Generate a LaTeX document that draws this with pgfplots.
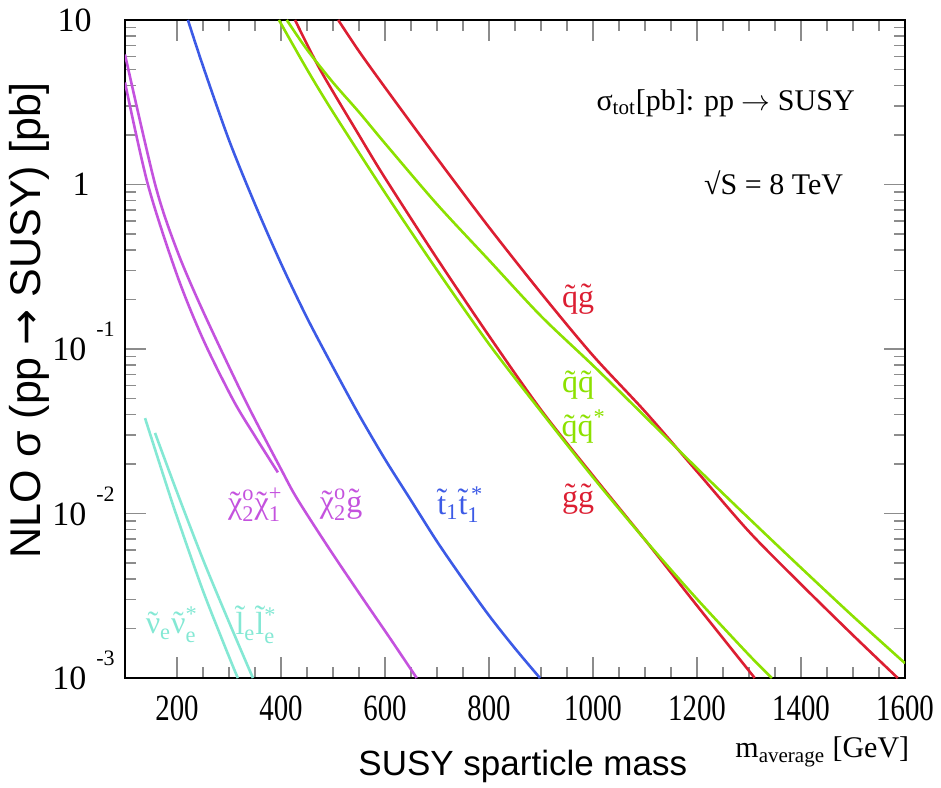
\documentclass[border=0pt]{standalone}
\usepackage{fontspec}
\setmainfont{Liberation Serif}
\newfontfamily\sansf{Liberation Sans}
\newfontfamily\dejavu{DejaVu Sans}
\newfontfamily\condf{Liberation Serif}[FakeStretch=0.78]
\usepackage{amsmath}
\usepackage{pgfplots}
\pgfplotsset{compat=1.18}

\definecolor{cmag}{HTML}{C452DE}
\definecolor{cblue}{HTML}{3C5AE6}
\definecolor{ccyan}{HTML}{84E8D4}
\definecolor{cred}{HTML}{DC1E32}
\definecolor{cgreen}{HTML}{8CE100}
\definecolor{ctick}{HTML}{8C8C8C}

% letter with a tilde above it
\newcommand{\tl}[1]{\leavevmode\setbox0=\hbox{#1}%
  \hbox to\wd0{\hss\raisebox{\dimexpr\ht0-\fontcharht\font`x\relax}{\char"02DC}\hss}%
  \kern-\wd0\box0}
\newcommand{\expo}[1]{10\kern5pt\raisebox{12pt}{\fontsize{11}{11}\selectfont -#1}}

\begin{document}
\begin{tikzpicture}
\path[use as bounding box] (-62.5pt,-54.5pt) rectangle (408pt,339pt);
\begin{axis}[
  at={(0,0)}, anchor=south west,
  scale only axis, width=390pt, height=329pt,
  clip mode=individual,
  xmin=100, xmax=1600, ymode=log, ymin=0.001, ymax=10,
  xtick={200,400,...,1600}, minor x tick num=3,
  ytick={0.001,0.01,0.1,1,10},
  minor ytick={0.002,0.003,0.004,0.005,0.006,0.007,0.008,0.009,
               0.02,0.03,0.04,0.05,0.06,0.07,0.08,0.09,
               0.2,0.3,0.4,0.5,0.6,0.7,0.8,0.9,
               2,3,4,5,6,7,8,9},
  yticklabels={{\expo{3}},{\expo{2}},{\expo{1}},{1\kern12.5pt},{10\kern11.5pt}},
  tick align=inside,
  major tick length=10.5pt, minor tick length=5.5pt,
  tick style={color=ctick, line width=0.7pt},
  axis line style={line width=0.8pt},
  /pgf/number format/assume math mode=true,
  /pgf/number format/1000 sep={},
  xticklabel style={font=\condf\fontsize{18.5}{18.5}\selectfont, anchor=base, yshift=-21pt},
  yticklabel style={font=\fontsize{17}{17}\selectfont, anchor=base east, inner sep=0pt, yshift=-5.75pt, xshift=-5pt},
  every axis plot/.append style={line width=1.3pt, smooth},
]
% stop pair
\addplot[cblue] coordinates {(221,10) (250,5.248) (300,1.862) (350,0.7586) (400,0.3311) (450,0.1549) (500,0.07762) (550,0.03981) (600,0.02138) (650,0.01202) (700,0.006761) (750,0.003981) (800,0.002399) (850,0.001514) (898,0.001)};
% chi2 chi1+
\addplot[cmag] coordinates {(100,4.169) (144,1.0) (200,0.2818) (250,0.1148) (308,0.04898) (350,0.02951) (394,0.01778)};
% chi2 gluino
\addplot[cmag] coordinates {(100,6.166) (158,1.0) (200,0.3981) (250,0.1698) (331,0.04898) (400,0.01862) (431,0.01230) (494,0.006026) (558,0.003020) (610,0.001738) (661,0.001)};
% sneutrino
\addplot[ccyan] coordinates {(138.5,0.03802) (175,0.01660) (200,0.009550) (250,0.003388) (300,0.001349) (317,0.001)};
% selectron
\addplot[ccyan] coordinates {(157.7,0.03090) (200,0.01349) (250,0.005248) (300,0.002188) (346,0.001)};
% squark gluino
\addplot[cred] coordinates {(510,10) (550,6.457) (600,3.890) (700,1.445) (800,0.5495) (900,0.2188) (1000,0.09120) (1100,0.04169) (1200,0.01799) (1300,0.007762) (1400,0.003715) (1500,0.001820) (1586,0.001)};
% gluino gluino
\addplot[cred] coordinates {(427,10) (475,5.012) (550,1.995) (600,1.096) (700,0.3548) (800,0.1202) (900,0.04266) (1000,0.01698) (1100,0.006918) (1200,0.002754) (1311,0.001)};
% squark squark
\addplot[cgreen] coordinates {(411,10) (450,6.607) (500,4.169) (550,2.754) (600,1.778) (700,0.7586) (800,0.3467) (900,0.1585) (1000,0.07943) (1100,0.03890) (1200,0.01884) (1300,0.009333) (1400,0.004677) (1500,0.002371) (1600,0.001230)};
% squark antisquark
\addplot[cgreen] coordinates {(396,10) (450,5.012) (500,2.754) (600,0.8913) (700,0.3020) (800,0.1072) (900,0.04169) (1000,0.01660) (1100,0.006918) (1200,0.003020) (1300,0.001380) (1344,0.001)};

\node[font=\sansf\fontsize{21.5}{21.5}\selectfont, rotate=90] at (rel axis cs:-0.122,0.544) {NLO σ (pp {\dejavu →} SUSY) [pb]};
\node[font=\sansf\fontsize{17.5}{17.5}\selectfont] at (rel axis cs:0.51,-0.135) {SUSY sparticle mass};
\node[font=\fontsize{15}{15}\selectfont] at (rel axis cs:0.894,-0.112) {m$_{\text{average}}$ [GeV]};
\node[anchor=east, inner sep=0pt, font=\fontsize{15}{15}\selectfont] at (rel axis cs:0.936,0.874) {σ$_{\text{tot}}$[pb]: pp $\rightarrow$ SUSY};
\node[anchor=east, inner sep=0pt, font=\fontsize{15}{15}\selectfont] at (rel axis cs:0.921,0.752) {√S = 8 TeV};

\node[text=cred, font=\fontsize{16}{16}\selectfont] at (rel axis cs:0.581,0.576) {\tl{q}\tl{g}};
\node[text=cgreen, font=\fontsize{16}{16}\selectfont] at (rel axis cs:0.581,0.445) {\tl{q}\tl{q}};
\node[text=cgreen, font=\fontsize{16}{16}\selectfont] at (rel axis cs:0.588,0.382) {\tl{q}\tl{q}$^{\text{*}}$};
\node[text=cred, font=\fontsize{16}{16}\selectfont] at (rel axis cs:0.581,0.272) {\tl{g}\tl{g}};
\node[text=cmag, font=\fontsize{16}{16}\selectfont] at (rel axis cs:0.167,0.263) {\tl{χ}$^{\text{o}}_{\text{2}}$\tl{χ}$^{\text{+}}_{\text{1}}$};
\node[text=cmag, font=\fontsize{16}{16}\selectfont] at (rel axis cs:0.277,0.263) {\tl{χ}$^{\text{o}}_{\text{2}}$\tl{g}};
\node[text=cblue, font=\fontsize{16}{16}\selectfont] at (rel axis cs:0.430,0.263) {\tl{t}$_{\text{1}}$\tl{t}$_{\text{1}}^{\,\text{*}}$};
\node[text=ccyan, font=\fontsize{16}{16}\selectfont] at (rel axis cs:0.060,0.081) {\tl{ν}$_{\text{e}}$\tl{ν}$_{\text{e}}^{\text{*}}$};
\node[text=ccyan, font=\fontsize{16}{16}\selectfont] at (rel axis cs:0.168,0.081) {\tl{l}$_{\text{e}}$\tl{l}$_{\text{e}}^{\text{*}}$};
\end{axis}
\end{tikzpicture}
\end{document}
